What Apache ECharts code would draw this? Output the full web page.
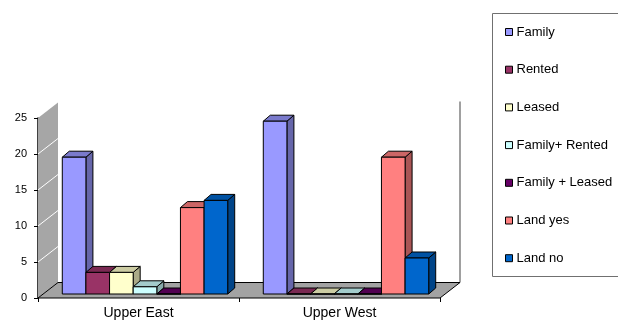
<!DOCTYPE html>
<html>
<head>
<meta charset="utf-8">
<script src="https://cdn.jsdelivr.net/npm/echarts@6/dist/echarts.min.js"></script>
<style>
  html, body { margin: 0; padding: 0; background: #fff; }
  #chart { width: 618px; height: 322px; }
</style>
</head>
<body>
<div id="chart"></div>
<script>
// Tenure categories per region
const regions = ['Upper East', 'Upper West'];
const seriesNames = ['Family', 'Rented', 'Leased', 'Family+ Rented', 'Family + Leased', 'Land yes', 'Land no'];
const family = [19, 24];
const rented = [3, 0];
const leased = [3, 0];
const familyRented = [1, 0];
const familyLeased = [0, 0];
const landYes = [12, 19];
const landNo = [13, 5];
const yTicks = [0, 5, 10, 15, 20, 25];

const seriesValues = [family, rented, leased, familyRented, familyLeased, landYes, landNo];
const colors = ['#9999FF', '#993366', '#FFFFCC', '#CCFFFF', '#660066', '#FF8080', '#0066CC'];

// 3-D projection offsets (pixels)
const WALL_D = [20, -15.5];   // full depth of the walls / floor
const BAR_OFF = [6.5, -4];    // bar front plane behind the axis plane
const BAR_D = [7, -6];        // bar thickness
const GROUP_FRAC = 0.823;     // share of a category band used by the bar group

function shade(hex, k) {
  const n = parseInt(hex.slice(1), 16);
  const r = Math.round(((n >> 16) & 255) * k);
  const g = Math.round(((n >> 8) & 255) * k);
  const b = Math.round((n & 255) * k);
  return 'rgb(' + r + ',' + g + ',' + b + ')';
}

// Side wall, floor and back-wall edge
function renderWalls(params, api) {
  const cs = params.coordSys;
  const x0 = cs.x, x1 = cs.x + cs.width;
  const yBase = api.coord([0, 0])[1];
  const yTop = api.coord([0, yTicks[yTicks.length - 1]])[1];
  const children = [];
  children.push({
    type: 'polygon',
    shape: { points: [[x0, yTop], [x0 + WALL_D[0], yTop + WALL_D[1]], [x0 + WALL_D[0], yBase + WALL_D[1]], [x0, yBase]] },
    style: { fill: '#a6a6a6' }
  });
  yTicks.slice(1, -1).forEach(function (v) {
    const y = api.coord([0, v])[1];
    children.push({
      type: 'line',
      shape: { x1: x0, y1: y, x2: x0 + WALL_D[0], y2: y + WALL_D[1] },
      style: { stroke: '#ffffff', lineWidth: 1 }
    });
  });
  children.push({
    type: 'line',
    shape: { x1: x1 + WALL_D[0], y1: yTop + WALL_D[1] - 1, x2: x1 + WALL_D[0], y2: yBase + WALL_D[1] },
    style: { stroke: '#a0a0a0', lineWidth: 2 }
  });
  children.push({
    type: 'polygon',
    shape: { points: [[x0, yBase], [x1, yBase], [x1 + WALL_D[0], yBase + WALL_D[1]], [x0 + WALL_D[0], yBase + WALL_D[1]]] },
    style: { fill: '#a3a3a3', stroke: '#000', lineWidth: 1 }
  });
  return { type: 'group', children: children, silent: true };
}

function makeBarRenderer(idx) {
  const base = colors[idx];
  return function (params, api) {
    const cat = api.value(0);
    const val = api.value(1);
    const band = api.size([1, 0])[0];
    const groupW = band * GROUP_FRAC;
    const barW = groupW / seriesNames.length;
    const center = api.coord([cat, 0]);
    const topPt = api.coord([cat, val]);
    const xl = center[0] - groupW / 2 + idx * barW + BAR_OFF[0];
    const xr = xl + barW;
    const yb = center[1] + BAR_OFF[1];
    const yt = topPt[1] + BAR_OFF[1];
    const dx = BAR_D[0], dy = BAR_D[1];
    const edge = { stroke: '#000', lineWidth: 1, lineJoin: 'round' };
    return {
      type: 'group',
      children: [
        { type: 'polygon', shape: { points: [[xr, yt], [xr + dx, yt + dy], [xr + dx, yb + dy], [xr, yb]] },
          style: Object.assign({ fill: shade(base, 0.667) }, edge) },
        { type: 'polygon', shape: { points: [[xl, yt], [xr, yt], [xr + dx, yt + dy], [xl + dx, yt + dy]] },
          style: Object.assign({ fill: shade(base, 0.8) }, edge) },
        { type: 'polygon', shape: { points: [[xl, yt], [xr, yt], [xr, yb], [xl, yb]] },
          style: Object.assign({ fill: base }, edge) }
      ]
    };
  };
}

const series = [{
  type: 'custom',
  name: '_walls',
  renderItem: renderWalls,
  data: [[0, 0]],
  silent: true,
  z: 1
}];
seriesNames.forEach(function (name, i) {
  series.push({
    type: 'custom',
    name: name,
    renderItem: makeBarRenderer(i),
    data: seriesValues[i].map(function (v, c) { return [c, v]; }),
    itemStyle: { color: colors[i] },
    encode: { x: 0, y: 1 },
    z: 2
  });
});

const chart = echarts.init(document.getElementById('chart'), null, { renderer: 'canvas' });
chart.setOption({
  animation: false,
  backgroundColor: '#ffffff',
  textStyle: { fontFamily: 'Liberation Sans, Arial, sans-serif' },
  grid: { left: 38, right: 178, top: 118, bottom: 24 },
  xAxis: {
    type: 'category',
    data: regions,
    boundaryGap: true,
    axisLine: { show: false },
    axisTick: { show: true, length: 4, lineStyle: { color: '#000' }, alignWithLabel: false },
    axisLabel: { color: '#000', fontSize: 14, margin: 8 }
  },
  yAxis: {
    type: 'value',
    min: 0,
    max: 25,
    interval: 5,
    axisLine: { show: true, lineStyle: { color: '#000', width: 1.5 } },
    axisTick: { show: true, length: 4, lineStyle: { color: '#000' } },
    axisLabel: { color: '#000', fontSize: 11, margin: 11 },
    splitLine: { show: false }
  },
  legend: {
    orient: 'vertical',
    left: 500,
    top: 20,
    padding: 5,
    data: seriesNames,
    icon: 'rect',
    itemWidth: 7,
    itemHeight: 7,
    itemGap: 23.7,
    itemStyle: { borderColor: '#000', borderWidth: 1 },
    textStyle: { fontSize: 13, color: '#000', lineHeight: 14, padding: [0, 0, 0, -1] },
    selectedMode: false
  },
  graphic: [{
    type: 'rect',
    shape: { x: 492.5, y: 13.5, width: 200, height: 263 },
    style: { fill: 'none', stroke: '#707070', lineWidth: 1 },
    z: 0
  }],
  series: series
});
</script>
</body>
</html>
